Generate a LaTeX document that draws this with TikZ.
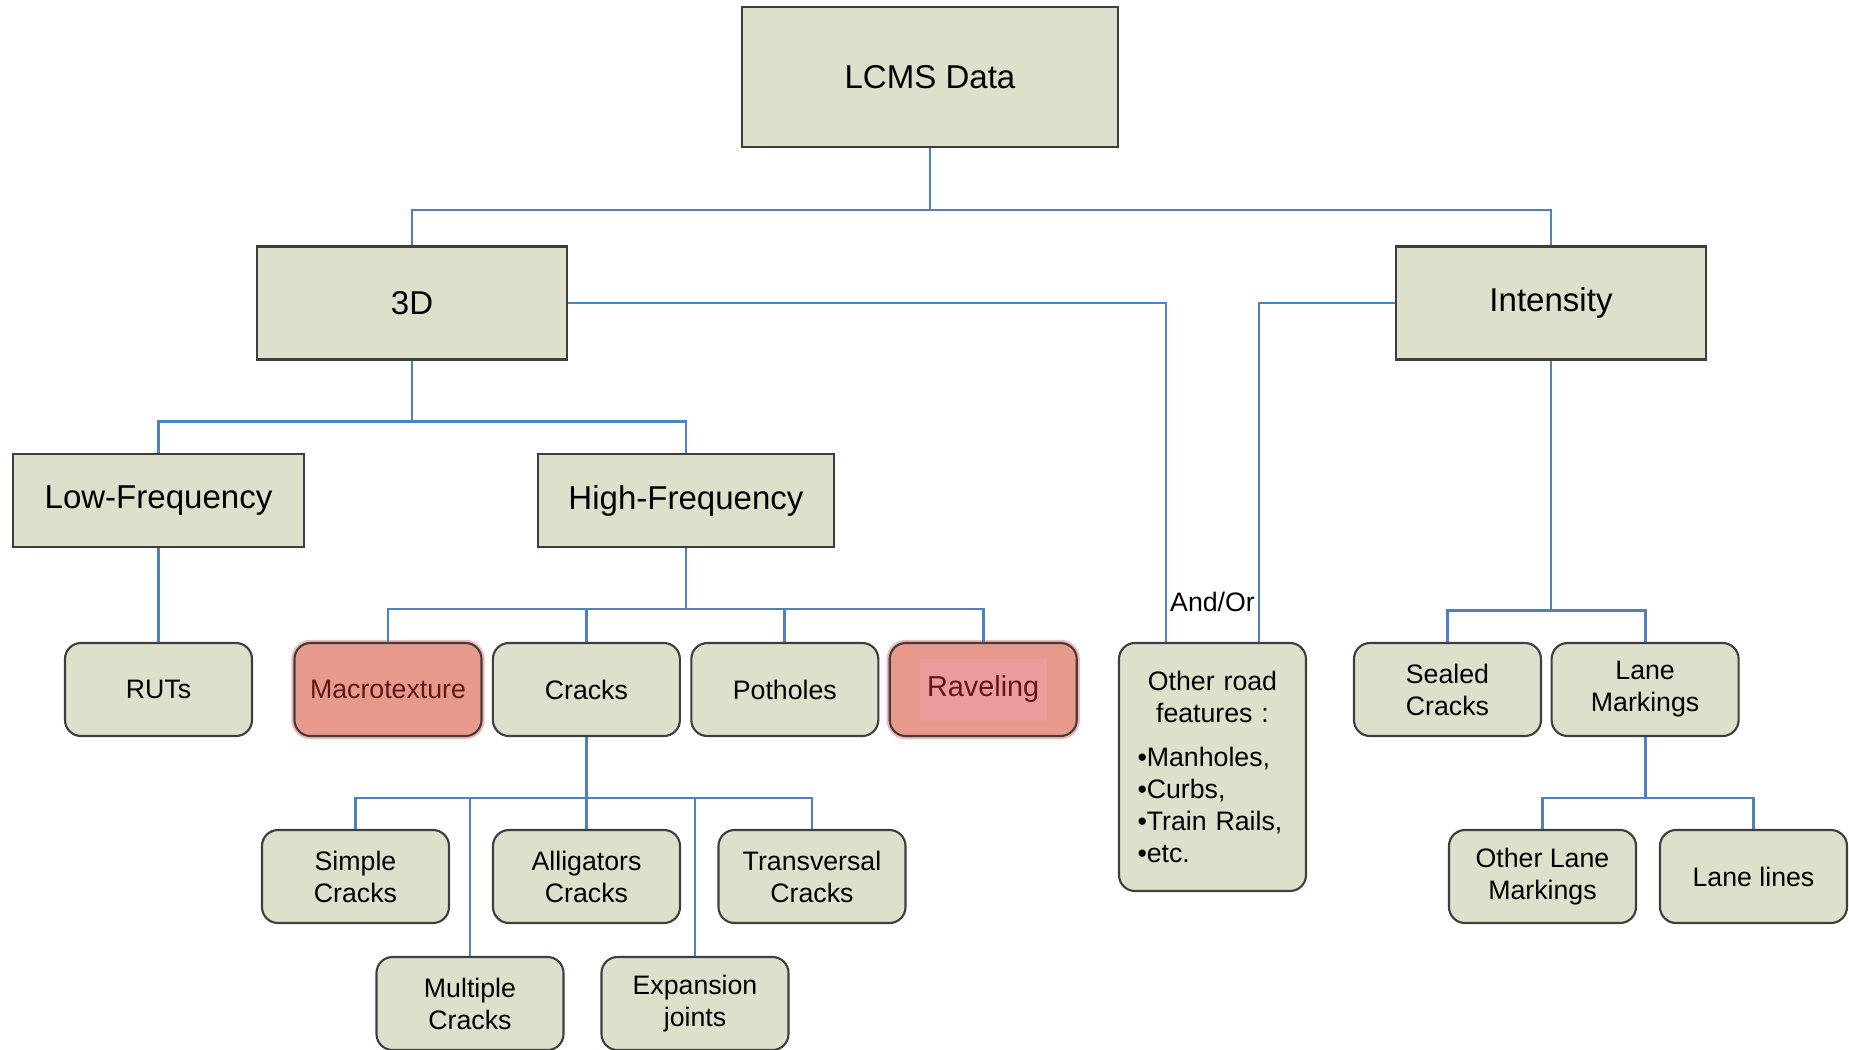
\documentclass[tikz,border=0pt]{standalone}
\usepackage{fontspec}
\setmainfont{Liberation Sans}
\usepackage{tikz}
\usetikzlibrary{positioning}

\definecolor{boxfill}{RGB}{221,225,203}
\definecolor{boxline}{RGB}{62,62,62}
\definecolor{linkblue}{RGB}{79,129,189}
\definecolor{redfill}{RGB}{231,153,139}
\definecolor{redinner}{RGB}{236,154,154}
\definecolor{redtext}{RGB}{96,22,22}

\begin{document}
\begin{tikzpicture}[thin,
    block/.style = {draw=boxline, fill=boxfill, line width=0.6pt, inner sep=0pt,
                    font=\fontsize{9.4}{11}\selectfont},
    leaf/.style = {draw=boxline, fill=boxfill, rounded corners=0.16cm, line width=0.6pt,
                   minimum width=1.87cm, minimum height=0.93cm, inner sep=0pt,
                   align=center, font=\fontsize{7.6}{9.1}\selectfont},
    hot/.style = {leaf, fill=redfill, text=redtext,
                  preaction={draw=redinner!70, line width=1.8pt}},
    link/.style = {draw=linkblue, line width=0.8pt},
  ]
    \useasboundingbox (0,0) rectangle (18.49,-10.50);

    % livelli alti
    \node[block, minimum width=3.76cm, minimum height=1.40cm] (lcms) at (9.30,-0.77) {LCMS Data};
    \node[block, minimum width=3.10cm, minimum height=1.13cm] (threed) at (4.12,-3.03) {3D};
    \node[block, minimum width=3.10cm, minimum height=1.13cm] (intensity) at (15.51,-3.03) {Intensity};
    \node[block, minimum width=2.91cm, minimum height=0.93cm] (lowf) at (1.585,-5.005) {Low-Frequency};
    \node[block, minimum width=2.96cm, minimum height=0.93cm] (highf) at (6.86,-5.005) {High-Frequency};

    % prima fila di foglie
    \node[leaf] (ruts) at (1.585,-6.895) {RUTs};
    \node[hot] (macro) at (3.88,-6.895) {Macrotexture};
    \node[leaf, right=0.093cm of macro] (cracks) {Cracks};
    \node[leaf, right=0.093cm of cracks] (potholes) {Potholes};
    \node[hot, right=0.093cm of potholes] (raveling) {};
    \node[fill=redinner, text=redtext, inner sep=0pt, minimum width=1.27cm, minimum height=0.62cm,
          font=\fontsize{8.2}{10}\selectfont] (ravtext) at (raveling) {Raveling};
    \node[leaf] (sealed) at (14.475,-6.895) {Sealed\\Cracks};
    \node[leaf, right=0.085cm of sealed] (lanem) {Lane\\Markings};

    % altre caratteristiche
    \node[leaf, minimum height=2.48cm, text width=1.50cm, align=left] (other) at (12.125,-7.67)
      {{\centering Other road\\ features :\par}\vspace{3.2pt}%
       •Manholes,\\ •Curbs,\\ •Train~Rails,\\ •etc.};
    \node[font=\fontsize{7.6}{9}\selectfont, inner sep=0pt] (andor) at ([yshift=0.40cm]other.north) {And/Or};

    % tipi di fessure
    \node[leaf] (simple) at (3.555,-8.765) {Simple\\Cracks};
    \node[leaf] (allig) at (5.865,-8.765) {Alligators\\Cracks};
    \node[leaf] (transv) at (8.12,-8.765) {Transversal\\Cracks};
    \node[leaf] (multi) at (4.70,-10.035) {Multiple\\Cracks};
    \node[leaf] (expan) at (6.95,-10.035) {Expansion\\joints};

    % segnaletica
    \node[leaf] (otherlane) at (15.425,-8.765) {Other Lane\\Markings};
    \node[leaf] (lanelines) at (17.535,-8.765) {Lane lines};

    % collegamenti
    \draw[link] (lcms.south) -- ++(0,-0.62) -| (threed.north);
    \draw[link] (lcms.south) -- ++(0,-0.62) -| (intensity.north);
    \draw[link] (threed.south) -- ++(0,-0.61) -| (lowf.north);
    \draw[link] (threed.south) -- ++(0,-0.61) -| (highf.north);
    \draw[link] (lowf.south) -- (ruts.north);
    \foreach \k in {macro, cracks, potholes, raveling}
      \draw[link] (highf.south) -- ++(0,-0.61) -| (\k.north);
    \draw[link] (threed.east) -| ([xshift=-0.465cm]other.north);
    \draw[link] (intensity.west) -| ([xshift=0.465cm]other.north);
    \foreach \k in {sealed, lanem}
      \draw[link] (intensity.south) -- ++(0,-2.50) -| (\k.north);
    \foreach \k in {simple, multi, allig, expan, transv}
      \draw[link] (cracks.south) -- ++(0,-0.61) -| (\k.north);
    \foreach \k in {otherlane, lanelines}
      \draw[link] (lanem.south) -- ++(0,-0.61) -| (\k.north);
\end{tikzpicture}
\end{document}
